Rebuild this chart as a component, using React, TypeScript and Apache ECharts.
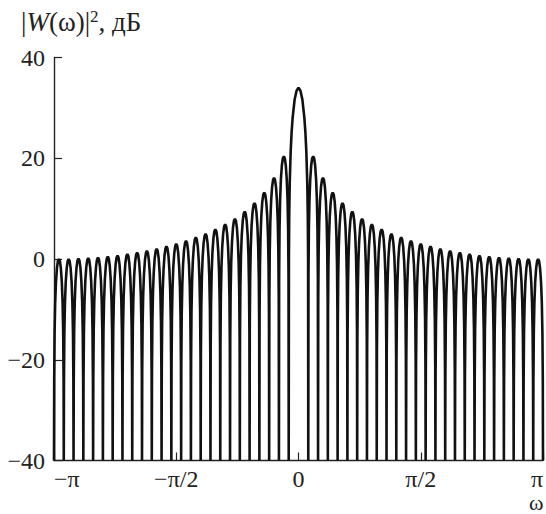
import React, { useEffect, useRef } from "react";
import * as echarts from "echarts";

// Peak value of the main lobe (dB)
const MAIN_PEAK_DB = 34;
// Main lobe shape: [fraction of half-width from centre, dB]
const MAIN_LOBE: [number, number][] = [
  [0, 34], [0.2, 33.4], [0.4, 31.6], [0.6, 28.0], [0.7, 25.3],
  [0.8, 21.4], [0.9, 14.8], [0.95, 8.4], [0.98, 0.2], [1, -40],
];
// Side-lobe peaks (dB), from the centre outwards (same on both sides)
const SIDELOBE_PEAKS_DB = [
  20.4, 16.1, 13.2, 11.1, 9.4, 8.0, 6.9, 5.9, 5.0, 4.3, 3.6, 3.0,
  2.5, 2.0, 1.6, 1.3, 1.0, 0.7, 0.5, 0.3, 0.2, 0.1, 0.0, 0.0,
];
// Shape of one side lobe: [fraction across the lobe, dB relative to its peak]
const LOBE_PROFILE: [number, number][] = [
  [0, -99], [0.02, -24], [0.06, -14.6], [0.12, -8.7], [0.2, -4.6],
  [0.3, -1.8], [0.4, -0.4], [0.5, 0], [0.6, -0.4], [0.7, -1.8],
  [0.8, -4.6], [0.88, -8.7], [0.94, -14.6], [0.98, -24], [1, -99],
];
// Distance between nulls (rad): 50-point window
const NULL_SPACING = (2 * Math.PI) / 50;

const Y_TICKS = [-40, -20, 0, 20, 40];
const X_TICK_LABELS: Record<string, string> = {
  "-2": "−π",
  "-1": "−π/2",
  "0": "0",
  "1": "π/2",
  "2": "π",
};

function buildData(): [number, number][] {
  const pts: [number, number][] = [];
  const d = NULL_SPACING;
  const clamp = (v: number) => Math.max(-40, v);
  // left side lobes
  for (let k = SIDELOBE_PEAKS_DB.length; k >= 1; k--) {
    const peak = SIDELOBE_PEAKS_DB[k - 1];
    const start = -(k + 1) * d;
    for (const [f, off] of LOBE_PROFILE) {
      pts.push([start + f * d, clamp(peak + off)]);
    }
  }
  // main lobe
  const scale = MAIN_PEAK_DB / MAIN_LOBE[0][1];
  for (let i = MAIN_LOBE.length - 1; i >= 1; i--) {
    const [u, v] = MAIN_LOBE[i];
    pts.push([-u * d, clamp(v * (v > 0 ? scale : 1))]);
  }
  for (let i = 0; i < MAIN_LOBE.length; i++) {
    const [u, v] = MAIN_LOBE[i];
    pts.push([u * d, clamp(v * (v > 0 ? scale : 1))]);
  }
  // right side lobes
  for (let k = 1; k <= SIDELOBE_PEAKS_DB.length; k++) {
    const peak = SIDELOBE_PEAKS_DB[k - 1];
    const start = k * d;
    for (const [f, off] of LOBE_PROFILE) {
      pts.push([start + f * d, clamp(peak + off)]);
    }
  }
  return pts;
}

const FONT = "'Liberation Serif', 'DejaVu Serif', serif";

export default function App() {
  const ref = useRef<HTMLDivElement>(null);
  useEffect(() => {
    if (!ref.current) return;
    const chart = echarts.init(ref.current, undefined, { renderer: "svg" });
    chart.setOption({
      animation: false,
      backgroundColor: "#ffffff",
      grid: { left: 54, right: 0, top: 57.5, bottom: 53.5, containLabel: false },
      xAxis: {
        type: "value",
        min: -Math.PI,
        max: Math.PI,
        interval: Math.PI / 2,
        position: "bottom",
        axisLine: { show: true, onZero: false, lineStyle: { color: "#222", width: 1.4 } },
        axisTick: { show: true, inside: true, length: 8, lineStyle: { color: "#222", width: 1.2 } },
        splitLine: { show: false },
        axisLabel: {
          color: "#222",
          fontFamily: FONT,
          fontSize: 24,
          lineHeight: 22,
          margin: 7,
          alignMinLabel: "left",
          alignMaxLabel: "right",
          formatter: (v: number) => X_TICK_LABELS[String(Math.round(v / (Math.PI / 2)))] ?? "",
        },
      },
      yAxis: {
        type: "value",
        min: Y_TICKS[0],
        max: Y_TICKS[Y_TICKS.length - 1],
        interval: 20,
        position: "left",
        axisLine: { show: true, onZero: false, lineStyle: { color: "#222", width: 1.4 } },
        axisTick: { show: true, inside: true, length: 8, lineStyle: { color: "#222", width: 1.2 } },
        splitLine: { show: false },
        axisLabel: {
          color: "#222",
          fontFamily: FONT,
          fontSize: 24,
          margin: 9,
          formatter: (v: number) => (v < 0 ? "−" + Math.abs(v) : String(v)),
        },
      },
      graphic: [
        {
          type: "text",
          left: 21,
          top: 8,
          style: {
            text: "|{i|W}(ω)|{s|2}, дБ",
            fontFamily: FONT,
            fontSize: 27,
            fill: "#222",
            rich: {
              i: { fontFamily: FONT, fontSize: 27, fontStyle: "italic", fill: "#222" },
              s: { fontFamily: FONT, fontSize: 17, fill: "#222", verticalAlign: "top", padding: [0, 0, 10, 0] },
            },
          },
        },
        {
          type: "text",
          left: 529,
          top: 491,
          style: { text: "ω", fontFamily: FONT, fontSize: 22, lineHeight: 20, fill: "#222" },
        },
      ],
      series: [
        {
          type: "line",
          data: buildData(),
          showSymbol: false,
          clip: true,
          smooth: false,
          lineStyle: { color: "#111", width: 2.6 },
        },
      ],
    });
    return () => chart.dispose();
  }, []);
  return (
    <div
      ref={ref}
      style={{ position: "fixed", left: 0, top: 0, width: 546, height: 514 }}
    />
  );
}
